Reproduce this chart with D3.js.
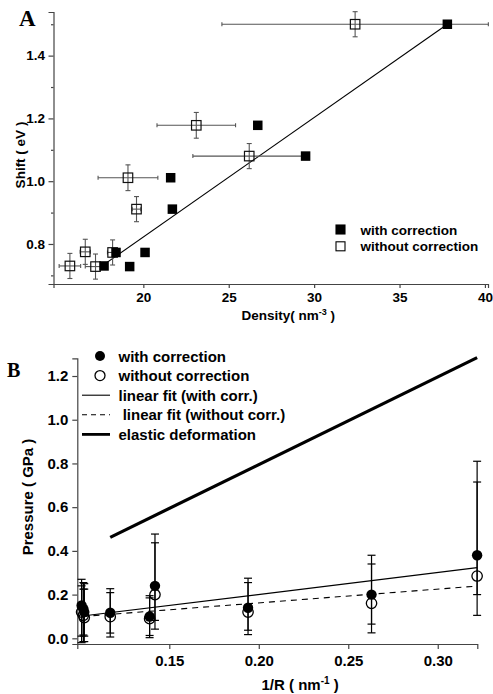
<!DOCTYPE html>
<html>
<head>
<meta charset="utf-8">
<script src="https://cdn.jsdelivr.net/npm/d3@7"></script>
<style>
  body { margin: 0; background: #fff; }
  text { font-family: "Liberation Sans", Arial, sans-serif; font-weight: bold; fill: #000; }
  .axis path, .axis line { stroke: #444; stroke-width: 1.2; }
</style>
</head>
<body>
<div class="container"></div>
<script>
// ---- panel A data ----
var densWith = [37.8, 26.7, 29.5, 21.6, 21.7, 18.4, 17.7, 19.2, 20.1];
var shiftWith = [1.50, 1.178, 1.08, 1.011, 0.911, 0.773, 0.73, 0.728, 0.773];
var densWithout = [32.4, 23.1, 26.2, 19.1, 19.6, 16.6, 15.7, 17.2, 18.2];
var shiftWithout = [1.50, 1.178, 1.08, 1.011, 0.911, 0.775, 0.73, 0.728, 0.773];
var densErr = [7.8, 2.3, 3.3, 1.75, 0.25, 0.3, 0.63, 0.6, 0.3];
var shiftErr = [0.04, 0.041, 0.04, 0.041, 0.04, 0.04, 0.04, 0.04, 0.04];
var fitAX = [17.5, 37.8];
var fitAY = [0.727, 1.50];
var ticksAX = [20, 25, 30, 35, 40];
var ticksAY = [0.8, 1.0, 1.2, 1.4];
var minorAY = [0.7, 0.9, 1.1, 1.3, 1.5];

// ---- panel B data ----
var invR = [0.101, 0.102, 0.1025, 0.117, 0.139, 0.142, 0.194, 0.263, 0.322];
var pWith = [0.15, 0.135, 0.12, 0.117, 0.10, 0.24, 0.14, 0.20, 0.38];
var pWithout = [0.12, 0.105, 0.095, 0.099, 0.09, 0.20, 0.12, 0.16, 0.285];
var errPlus = [0.12, 0.12, 0.13, 0.11, 0.095, 0.237, 0.135, 0.18, 0.43];
var errMinus = [0.14, 0.12, 0.11, 0.093, 0.087, 0.158, 0.103, 0.135, 0.18];
var fitBX = [0.1015, 0.322];
var fitWithY = [0.102, 0.323];
var fitWithoutY = [0.100, 0.239];
var elasticX = [0.117, 0.322];
var elasticY = [0.462, 1.284];
var ticksBX = [0.15, 0.20, 0.25, 0.30];
var ticksBY = [0.0, 0.2, 0.4, 0.6, 0.8, 1.0, 1.2];

var legendA = ['with correction', 'without correction'];
var legendB = ['with correction', 'without correction', 'linear fit (with corr.)', ' linear fit (without corr.)', 'elastic deformation'];

const WIDTH = 493, HEIGHT = 694;

var svg = d3.select('.container').append('svg')
  .attr('width', WIDTH).attr('height', HEIGHT);

var translate = function (x, y) { return 'translate(' + x + ',' + y + ')'; };

// ================= panel A =================
var xA = d3.scaleLinear().domain([14.74, 40.18]).range([53.5, 488]);
var yA = d3.scaleLinear().domain([0.6725, 1.539]).range([284, 12]);

svg.append('g').attr('class', 'axis')
  .attr('transform', translate(0, 284))
  .call(d3.axisBottom(xA).tickValues(ticksAX).tickFormat(d3.format('d')).tickSizeOuter(0).tickSize(4).tickPadding(4))
  .selectAll('text').style('font-size', '13.5px');

svg.append('g').attr('class', 'axis')
  .attr('transform', translate(53.5, 0))
  .call(d3.axisLeft(yA).tickValues(ticksAY).tickFormat(d3.format('.1f')).tickSizeOuter(0).tickSize(5).tickPadding(3.5))
  .selectAll('text').style('font-size', '13.5px');

svg.append('g').attr('class', 'axis')
  .attr('transform', translate(53.5, 0))
  .call(d3.axisLeft(yA).tickValues(minorAY).tickFormat('').tickSizeOuter(0).tickSize(2.5))
  .select('.domain').remove();

svg.append('text').attr('transform', translate(25, 155) + ' rotate(-90)')
  .attr('text-anchor', 'middle').style('font-size', '13.5px').text('Shift ( eV )');

var dl = svg.append('text').attr('x', 241.5).attr('y', 320).style('font-size', '13.5px');
dl.append('tspan').text('Density( nm');
dl.append('tspan').attr('dy', -5).style('font-size', '9px').text('-3');
dl.append('tspan').attr('dy', 5).text(' )');

svg.append('text').attr('x', 19).attr('y', 26)
  .style('font-family', '"Liberation Serif", "Times New Roman", serif')
  .style('font-size', '23px').text('A');

// fit line
svg.append('line')
  .attr('x1', xA(fitAX[0])).attr('y1', yA(fitAY[0]))
  .attr('x2', xA(fitAX[1])).attr('y2', yA(fitAY[1]))
  .attr('stroke', '#000').attr('stroke-width', 1.1);

// error bars (without correction)
var errA = svg.append('g').attr('stroke', '#555').attr('stroke-width', 1.1);
densWithout.forEach(function (d, i) {
  var cx = xA(d), cy = yA(shiftWithout[i]);
  var x0 = xA(d - densErr[i]), x1 = xA(d + densErr[i]);
  var y0 = yA(shiftWithout[i] - shiftErr[i]), y1 = yA(shiftWithout[i] + shiftErr[i]);
  errA.append('line').attr('x1', x0).attr('x2', x1).attr('y1', cy).attr('y2', cy);
  errA.append('line').attr('x1', x0).attr('x2', x0).attr('y1', cy - 2).attr('y2', cy + 2);
  errA.append('line').attr('x1', x1).attr('x2', x1).attr('y1', cy - 2).attr('y2', cy + 2);
  errA.append('line').attr('x1', cx).attr('x2', cx).attr('y1', y0).attr('y2', y1);
  errA.append('line').attr('x1', cx - 2.5).attr('x2', cx + 2.5).attr('y1', y0).attr('y2', y0);
  errA.append('line').attr('x1', cx - 2.5).attr('x2', cx + 2.5).attr('y1', y1).attr('y2', y1);
});

var SQ = 9.5;
svg.append('g').selectAll('rect').data(densWithout).join('rect')
  .attr('x', function (d) { return xA(d) - SQ / 2; })
  .attr('y', function (d, i) { return yA(shiftWithout[i]) - SQ / 2; })
  .attr('width', SQ).attr('height', SQ)
  .attr('fill', 'none').attr('stroke', '#111').attr('stroke-width', 1.2);

svg.append('g').selectAll('rect').data(densWith).join('rect')
  .attr('x', function (d) { return xA(d) - SQ / 2; })
  .attr('y', function (d, i) { return yA(shiftWith[i]) - SQ / 2; })
  .attr('width', SQ).attr('height', SQ)
  .attr('fill', '#000');

// legend A
legendA.forEach(function (t, i) {
  var ly = 229.5 + i * 16.8;
  svg.append('rect').attr('x', 336).attr('y', ly - 4.5).attr('width', 9).attr('height', 9)
    .attr('fill', i === 0 ? '#000' : '#fff').attr('stroke', '#000').attr('stroke-width', 1.1);
  svg.append('text').attr('x', 360.5).attr('y', ly + 5).style('font-size', '13.5px').text(t);
});

// ================= panel B =================
var xB = d3.scaleLinear().domain([0.0986, 0.3221]).range([77.3, 477.3]);
var yB = d3.scaleLinear().domain([-0.026, 1.281]).range([644, 358.3]);

svg.append('g').attr('class', 'axis')
  .attr('transform', translate(0, 644))
  .call(d3.axisBottom(xB).tickValues(ticksBX).tickFormat(d3.format('.2f')).tickSizeOuter(0).tickSize(5).tickPadding(6))
  .selectAll('text').style('font-size', '15px');

svg.append('g').attr('class', 'axis')
  .attr('transform', translate(77.3, 0))
  .call(d3.axisLeft(yB).tickValues(ticksBY).tickFormat(d3.format('.1f')).tickSizeOuter(0).tickSize(5).tickPadding(4))
  .selectAll('text').style('font-size', '15px');

svg.append('text').attr('transform', translate(33, 497) + ' rotate(-90)')
  .attr('text-anchor', 'middle').style('font-size', '15px').text('Pressure ( GPa )');

var bl = svg.append('text').attr('x', 261.5).attr('y', 690).style('font-size', '15px');
bl.append('tspan').text('1/R ( nm');
bl.append('tspan').attr('dy', -6).style('font-size', '10px').text('-1');
bl.append('tspan').attr('dy', 6).text(' )');

svg.append('text').attr('x', 7).attr('y', 377)
  .style('font-family', '"Liberation Serif", "Times New Roman", serif')
  .style('font-size', '20px').text('B');

// lines
svg.append('line')
  .attr('x1', xB(elasticX[0])).attr('y1', yB(elasticY[0]))
  .attr('x2', xB(elasticX[1])).attr('y2', yB(elasticY[1]))
  .attr('stroke', '#000').attr('stroke-width', 3.2);
svg.append('line')
  .attr('x1', xB(fitBX[0])).attr('y1', yB(fitWithY[0]))
  .attr('x2', xB(fitBX[1])).attr('y2', yB(fitWithY[1]))
  .attr('stroke', '#000').attr('stroke-width', 1.2);
svg.append('line')
  .attr('x1', xB(fitBX[0])).attr('y1', yB(fitWithoutY[0]))
  .attr('x2', xB(fitBX[1])).attr('y2', yB(fitWithoutY[1]))
  .attr('stroke', '#000').attr('stroke-width', 1.1).attr('stroke-dasharray', '6,5');

// error bars
var errB = svg.append('g').attr('stroke', '#000').attr('stroke-width', 1.2);
[pWith, pWithout].forEach(function (series) {
  invR.forEach(function (r, i) {
    var cx = xB(r);
    var y0 = yB(series[i] - errMinus[i]), y1 = yB(series[i] + errPlus[i]);
    errB.append('line').attr('x1', cx).attr('x2', cx).attr('y1', y0).attr('y2', y1);
    errB.append('line').attr('x1', cx - 4).attr('x2', cx + 4).attr('y1', y0).attr('y2', y0);
    errB.append('line').attr('x1', cx - 4).attr('x2', cx + 4).attr('y1', y1).attr('y2', y1);
  });
});

svg.append('g').selectAll('circle').data(invR).join('circle')
  .attr('cx', function (d) { return xB(d); })
  .attr('cy', function (d, i) { return yB(pWithout[i]); })
  .attr('r', 5.2).attr('fill', 'none').attr('stroke', '#000').attr('stroke-width', 1.3);

svg.append('g').selectAll('circle').data(invR).join('circle')
  .attr('cx', function (d) { return xB(d); })
  .attr('cy', function (d, i) { return yB(pWith[i]); })
  .attr('r', 5.2).attr('fill', '#000');

// legend B
legendB.forEach(function (t, i) {
  var ly = 356 + i * 19.6;
  if (i === 0) svg.append('circle').attr('cx', 100).attr('cy', ly).attr('r', 5).attr('fill', '#000');
  if (i === 1) svg.append('circle').attr('cx', 100).attr('cy', ly).attr('r', 5).attr('fill', 'none').attr('stroke', '#000').attr('stroke-width', 1.3);
  if (i >= 2) {
    svg.append('line').attr('x1', 82).attr('x2', 110).attr('y1', ly).attr('y2', ly)
      .attr('stroke', '#000')
      .attr('stroke-width', i === 4 ? 2.8 : 1.1)
      .attr('stroke-dasharray', i === 3 ? '5,4' : null);
  }
  svg.append('text').attr('x', 118.5).attr('y', ly + 5.5).style('font-size', '15px')
    .attr('xml:space', 'preserve').style('white-space', 'pre').text(t);
});
</script>
</body>
</html>
